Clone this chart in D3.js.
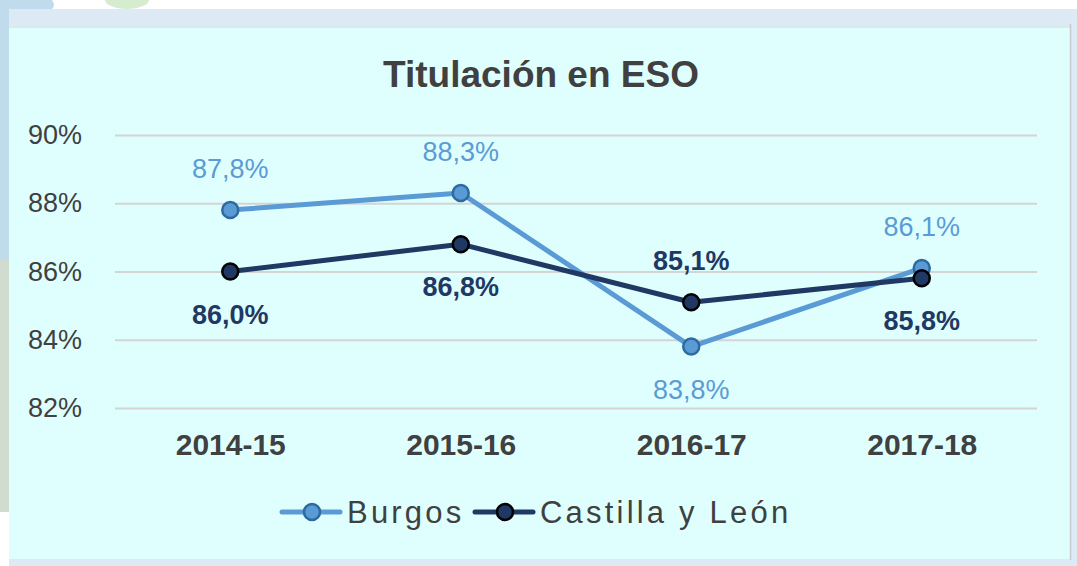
<!DOCTYPE html>
<html>
<head>
<meta charset="utf-8">
<script src="https://cdn.jsdelivr.net/npm/d3@7"></script>
<style>
  body { margin: 0; background: #fff; }
  svg { display: block; font-family: "Liberation Sans", Arial, sans-serif; }
</style>
</head>
<body>
<svg></svg>
<script>
const W = 1077, H = 566;

const years = ["2014-15", "2015-16", "2016-17", "2017-18"];
const burgos = [87.8, 88.3, 83.8, 86.1];
const castilla = [86.0, 86.8, 85.1, 85.8];
const yTicks = [82, 84, 86, 88, 90];

const svg = d3.select("svg")
    .attr("width", W)
    .attr("height", H);

// fondo de la pagina
svg.append("rect").attr("x", 0).attr("y", 0).attr("width", 9).attr("height", 260).attr("fill", "#c0dbeb");
svg.append("rect").attr("x", 0).attr("y", 260).attr("width", 9).attr("height", 252).attr("fill", "#d1dcd1");
svg.append("path").attr("d", "M0,0 L52,0 Q56,6 52,9 L0,9 Z").attr("fill", "#c0dbeb");
svg.append("ellipse").attr("cx", 127).attr("cy", 0).attr("rx", 22).attr("ry", 9).attr("fill", "#d6ecd0");

// marco
svg.append("rect").attr("x", 9).attr("y", 9).attr("width", W - 9).attr("height", H - 9).attr("fill", "#dde9f4");
svg.append("rect").attr("x", 9).attr("y", 26).attr("width", 1061).attr("height", 3).attr("fill", "#d8eaea");
svg.append("rect").attr("x", 9).attr("y", 28).attr("width", 1061).attr("height", 531).attr("fill", "#dfffff");
svg.append("line").attr("x1", 1070.5).attr("x2", 1070.5).attr("y1", 24).attr("y2", 560)
    .attr("stroke", "#c8ccd0").attr("stroke-width", 1.5);

const x = d3.scalePoint()
    .domain(years)
    .range([115, 1037])
    .padding(0.5);

const y = d3.scaleLinear()
    .domain([82, 90])
    .range([408, 135]);

svg.append("text")
    .attr("x", 541).attr("y", 87)
    .attr("text-anchor", "middle")
    .attr("font-size", 37).attr("font-weight", "bold")
    .attr("fill", "#404040")
    .text("Titulación en ESO");

// rejilla y eje y
const yAxis = svg.append("g")
    .attr("transform", "translate(115,0)")
    .call(d3.axisLeft(y).tickValues(yTicks).tickSize(-922).tickPadding(33)
        .tickFormat(d => d + "%"));
yAxis.select(".domain").remove();
yAxis.selectAll(".tick line").attr("stroke", "#d4d4d4").attr("stroke-width", 2);
yAxis.selectAll(".tick text")
    .attr("font-size", 27).attr("fill", "#404040")
    .attr("font-family", "Liberation Sans, Arial, sans-serif");

// eje x
const xAxis = svg.append("g")
    .attr("transform", "translate(0,408)")
    .call(d3.axisBottom(x).tickSize(0).tickPadding(26));
xAxis.select(".domain").remove();
xAxis.selectAll(".tick text")
    .attr("font-size", 30).attr("font-weight", "bold").attr("fill", "#404040")
    .attr("font-family", "Liberation Sans, Arial, sans-serif");

const line = d3.line()
    .x((d, i) => x(years[i]))
    .y(d => y(d));

const series = [
    { name: "Burgos", values: burgos, color: "#5b9bd5", stroke: "#2d6a9f", label: "#5b9bd5", weight: "normal",
      above: [true, true, false, true] },
    { name: "Castilla y León", values: castilla, color: "#1f3864", stroke: "#000000", label: "#1f3864", weight: "bold",
      above: [false, false, true, false] }
];

series.forEach(s => {
    svg.append("path")
        .datum(s.values)
        .attr("d", line)
        .attr("fill", "none")
        .attr("stroke", s.color)
        .attr("stroke-width", 5)
        .attr("stroke-linejoin", "round");
});

series.forEach(s => {
    svg.selectAll(null)
        .data(s.values)
        .enter()
        .append("circle")
        .attr("cx", (d, i) => x(years[i]))
        .attr("cy", d => y(d))
        .attr("r", 8)
        .attr("fill", s.color)
        .attr("stroke", s.stroke)
        .attr("stroke-width", 2.5);

    svg.selectAll(null)
        .data(s.values)
        .enter()
        .append("text")
        .attr("x", (d, i) => x(years[i]))
        .attr("y", (d, i) => s.above[i] ? y(d) - 32 : y(d) + 52)
        .attr("text-anchor", "middle")
        .attr("font-size", 27)
        .attr("font-weight", s.weight)
        .attr("fill", s.label)
        .text(d => d.toFixed(1).replace(".", ",") + "%");
});

// leyenda
const legend = [
    { name: "Burgos", x0: 282, color: "#5b9bd5", stroke: "#2d6a9f" },
    { name: "Castilla y León", x0: 475, color: "#1f3864", stroke: "#000000" }
];
legend.forEach(l => {
    svg.append("line")
        .attr("x1", l.x0).attr("x2", l.x0 + 58)
        .attr("y1", 512).attr("y2", 512)
        .attr("stroke", l.color).attr("stroke-width", 5).attr("stroke-linecap", "round");
    svg.append("circle")
        .attr("cx", l.x0 + 30).attr("cy", 512).attr("r", 8)
        .attr("fill", l.color).attr("stroke", l.stroke).attr("stroke-width", 2.5);
    svg.append("text")
        .attr("x", l.x0 + 65).attr("y", 523)
        .attr("font-size", 31).attr("letter-spacing", 3.2)
        .attr("fill", "#404040")
        .text(l.name);
});
</script>
</body>
</html>
